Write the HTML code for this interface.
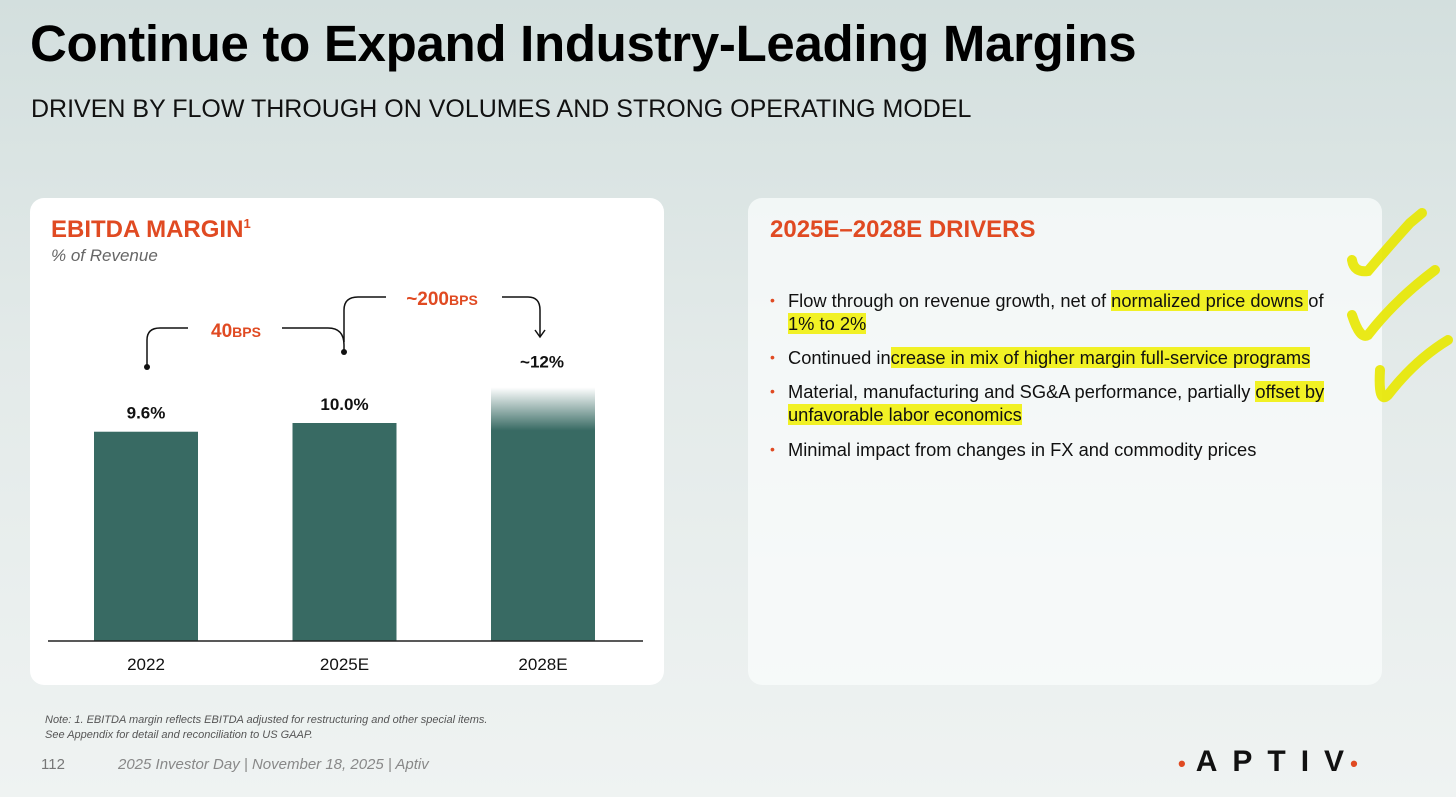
<!DOCTYPE html>
<html><head><meta charset="utf-8"><style>
body{margin:0;width:1456px;height:797px;overflow:hidden;font-family:"Liberation Sans",Arial,sans-serif;background:linear-gradient(180deg,#d3dfde 0%,#e3eae9 45%,#eff3f2 100%);position:relative}
.abs{position:absolute}
h1{position:absolute;left:30px;top:14px;margin:0;font-size:51px;font-weight:bold;color:#000;letter-spacing:-0.3px}
.sub{left:31px;top:95px;font-size:25px;color:#111}
.card{border-radius:14px}
.bul{position:absolute;left:770px;font-size:18.3px;color:#111;line-height:23px;width:575px}
.bul b{color:#e04a22;font-weight:normal;position:absolute;left:0;font-size:14px}
.bul span{display:block;padding-left:18px}
.hl{background:rgba(240,240,0,0.85)}
</style></head><body>
<h1>Continue to Expand Industry-Leading Margins</h1>
<div class="abs sub">DRIVEN BY FLOW THROUGH ON VOLUMES AND STRONG OPERATING MODEL</div>
<div class="abs card" style="left:30px;top:198px;width:634px;height:487px;background:#fff"></div>
<div class="abs card" style="left:748px;top:198px;width:634px;height:487px;background:rgba(250,252,252,0.75)"></div>
<div class="abs" style="left:51px;top:216px;font-size:24px;font-weight:bold;color:#e04a22">EBITDA MARGIN<sup style="font-size:13px">1</sup></div>
<div class="abs" style="left:51px;top:246px;font-size:17px;font-style:italic;color:#666">% of Revenue</div>
<svg class="abs" style="left:0;top:0" width="1456" height="797" id="chart">
<defs><linearGradient id="fade" x1="0" y1="0" x2="0" y2="1"><stop offset="0" stop-color="#386a63" stop-opacity="0"/><stop offset="0.17" stop-color="#386a63" stop-opacity="1"/><stop offset="1" stop-color="#386a63"/></linearGradient></defs>
<g id="bars"></g>
<line x1="48" y1="641" x2="643" y2="641" stroke="#222" stroke-width="1.5"/>
<g fill="none" stroke="#111" stroke-width="1.5">
<path d="M147 367 V340 Q147 328 160 328 H188"/>
<path d="M282 328 H328 Q344 328 344 345 V352"/>
<path d="M344 342 V310 Q344 297 358 297 H386"/>
<path d="M502 297 H528 Q540 297 540 310 V336"/>
<path d="M535 330 L540 337 L545 330"/>
</g>
<circle cx="147" cy="367" r="3" fill="#111"/><circle cx="344" cy="352" r="3" fill="#111"/>
<text x="236" y="337" text-anchor="middle" fill="#e04a22" font-weight="bold" font-size="19">40<tspan font-size="14">BPS</tspan></text>
<text x="442" y="305" text-anchor="middle" fill="#e04a22" font-weight="bold" font-size="19">~200<tspan font-size="14">BPS</tspan></text>
</svg>
<script>
const categories=["2022","2025E","2028E"];
const values=[9.6,10.0,12];
const valueLabels=["9.6%","10.0%","~12%"];
const svg=document.getElementById('bars');
const NS="http://www.w3.org/2000/svg";
const base=641, k=21.8;
function y(v){return base-v*k;}
function xc(i){return 146+i*198.5;}
categories.forEach((c,i)=>{
 const r=document.createElementNS(NS,'rect');
 
 
 const top=y(values[i]);
 r.setAttribute('x',xc(i)-52);r.setAttribute('y',top);r.setAttribute('width',104);r.setAttribute('height',base-top);
 r.setAttribute('fill',i===2?'url(#fade)':'#386a63');
 if(i===2){r.setAttribute('y',top+8);r.setAttribute('height',base-top-8);}
 svg.appendChild(r);
 const t=document.createElementNS(NS,'text');
 
 
 t.setAttribute('x',xc(i)+(i===2?-1:0));t.setAttribute('y',top-(i===2?12:13));
 t.setAttribute('text-anchor','middle');t.setAttribute('font-size','17');t.setAttribute('font-weight','bold');t.setAttribute('fill','#111');
 t.textContent=valueLabels[i];svg.appendChild(t);
 const l=document.createElementNS(NS,'text');
 
 
 l.setAttribute('x',xc(i));l.setAttribute('y',670);l.setAttribute('text-anchor','middle');l.setAttribute('font-size','17');l.setAttribute('fill','#111');
 l.textContent=c;svg.appendChild(l);
});
</script>
<div class="abs" style="left:770px;top:216px;font-size:24px;font-weight:bold;color:#e04a22">2025E–2028E DRIVERS</div>
<div class="bul" style="top:289px"><b>•</b><span>Flow through on revenue growth, net of <span class="hl" style="display:inline;padding:0">normalized price downs </span>of<br><span class="hl" style="display:inline;padding:0">1% to 2%</span></span></div>
<div class="bul" style="top:346px"><b>•</b><span>Continued in<span class="hl" style="display:inline;padding:0">crease in mix of higher margin full-service programs</span></span></div>
<div class="bul" style="top:380px"><b>•</b><span>Material, manufacturing and SG&amp;A performance, partially <span class="hl" style="display:inline;padding:0">offset by</span><br><span class="hl" style="display:inline;padding:0">unfavorable labor economics</span></span></div>
<div class="bul" style="top:438px"><b>•</b><span>Minimal impact from changes in FX and commodity prices</span></div>
<svg class="abs" style="left:1340px;top:205px" width="116" height="210">
<g fill="none" stroke="#e8e800" stroke-width="10" stroke-linecap="round" opacity="0.9">
<path d="M12 55 Q14 68 28 66 Q50 40 70 18 L82 8"/>
<path d="M12 110 Q20 135 28 130 Q55 95 95 65"/>
<path d="M40 165 Q38 200 48 190 Q75 155 108 135"/>
</g></svg>
<div class="abs" style="left:45px;top:713px;font-size:11px;font-style:italic;color:#555;line-height:15px">Note: 1. EBITDA margin reflects EBITDA adjusted for restructuring and other special items.<br>See Appendix for detail and reconciliation to US GAAP.</div>
<div class="abs" style="left:41px;top:756px;font-size:15px;color:#777">112</div>
<div class="abs" style="left:118px;top:756px;font-size:15px;font-style:italic;color:#888">2025 Investor Day | November 18, 2025 | Aptiv</div>
<div class="abs" style="left:1178px;top:745px;font-size:30px;font-weight:bold;color:#111;letter-spacing:15px;white-space:nowrap"><span style="color:#e04a22;font-size:22px;letter-spacing:10px">•</span>APTI<span style="letter-spacing:6px">V</span><span style="color:#e04a22;font-size:22px">•</span></div>
</body></html>
